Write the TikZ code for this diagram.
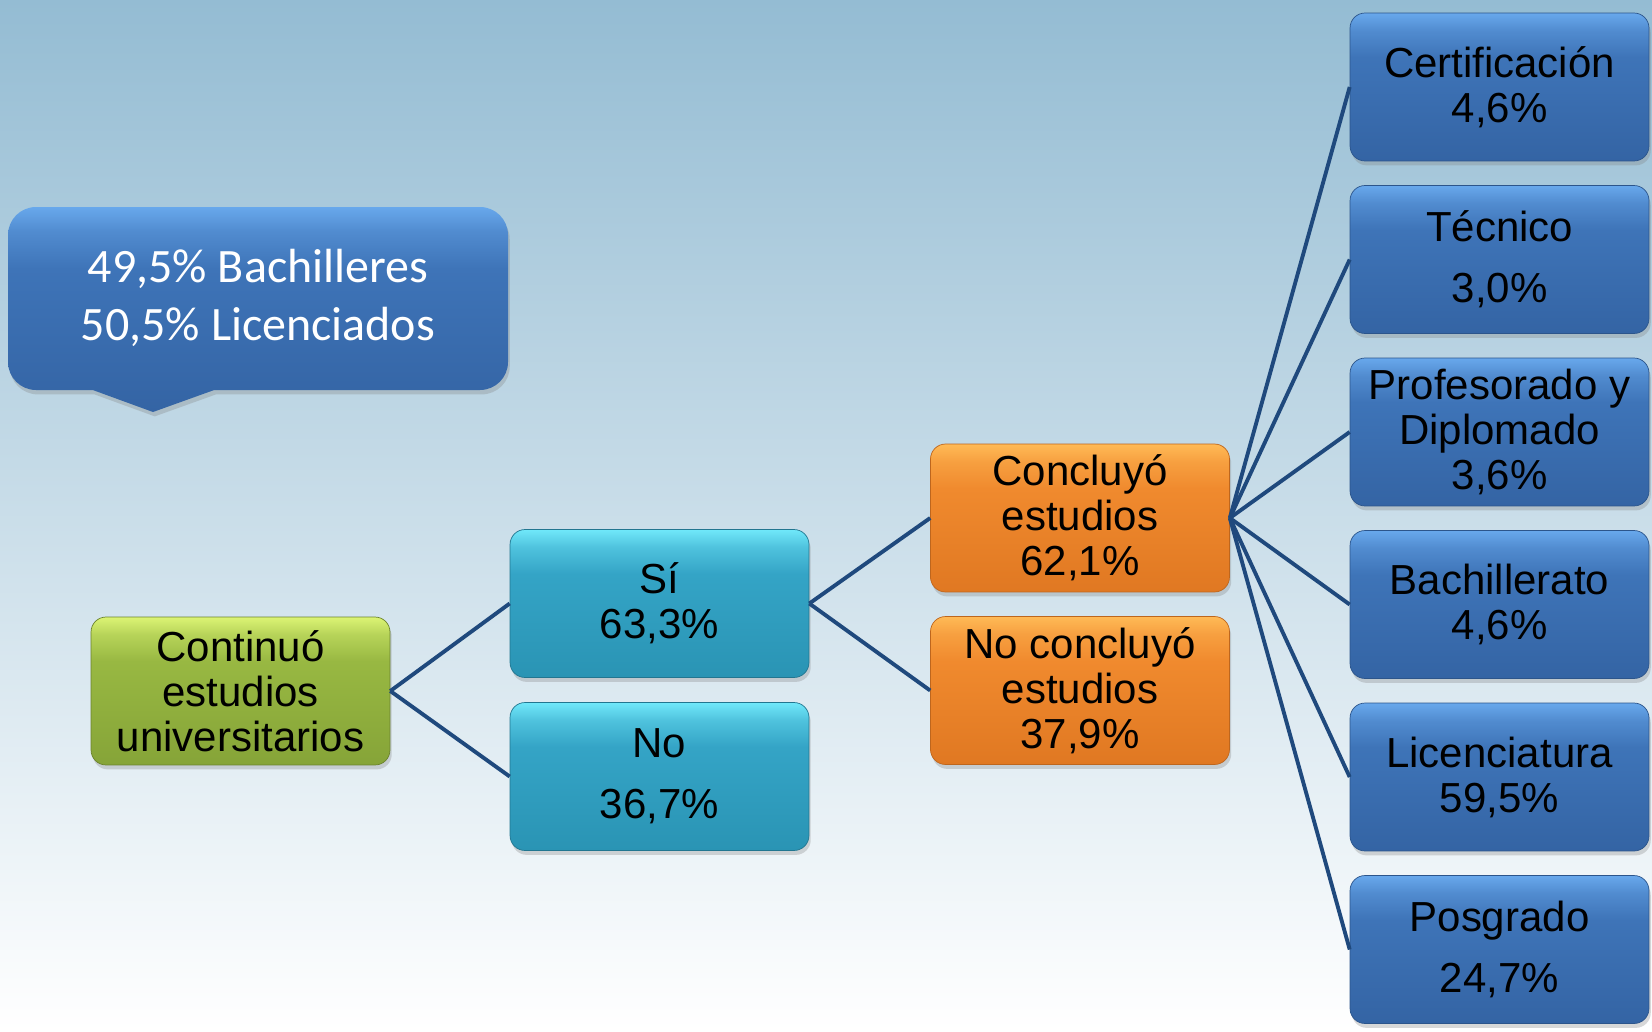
\documentclass[tikz,border=0pt]{standalone}
\usepackage{fontspec}
\setmainfont{Liberation Sans}
\newfontfamily\notafont{Carlito}
\usetikzlibrary{positioning,shadows}

\definecolor{fondo}{RGB}{148,188,211}
\definecolor{linea}{RGB}{31,73,125}
\definecolor{azulA}{RGB}{104,168,236}
\definecolor{azulB}{RGB}{62,116,184}
\definecolor{azulC}{RGB}{52,100,164}
\definecolor{cianA}{RGB}{112,232,250}
\definecolor{cianB}{RGB}{52,164,198}
\definecolor{cianC}{RGB}{42,148,180}
\definecolor{narA}{RGB}{255,186,86}
\definecolor{narB}{RGB}{240,138,46}
\definecolor{narC}{RGB}{224,120,34}
\definecolor{verA}{RGB}{220,244,116}
\definecolor{verB}{RGB}{152,184,66}
\definecolor{verC}{RGB}{134,164,56}

% bisel: banda clara arriba, cuerpo casi plano
\pgfdeclareverticalshading{biselazul}{100bp}{color(0bp)=(azulC); color(25bp)=(azulC);
  color(60bp)=(azulB); color(69bp)=(azulB!55!azulA); color(75bp)=(azulA); color(100bp)=(azulA)}
\pgfdeclareverticalshading{biselcian}{100bp}{color(0bp)=(cianC); color(25bp)=(cianC);
  color(60bp)=(cianB); color(69bp)=(cianB!55!cianA); color(75bp)=(cianA); color(100bp)=(cianA)}
\pgfdeclareverticalshading{biselnar}{100bp}{color(0bp)=(narC); color(25bp)=(narC);
  color(60bp)=(narB); color(69bp)=(narB!55!narA); color(75bp)=(narA); color(100bp)=(narA)}
\pgfdeclareverticalshading{biselver}{100bp}{color(0bp)=(verC); color(25bp)=(verC);
  color(60bp)=(verB); color(69bp)=(verB!55!verA); color(75bp)=(verA); color(100bp)=(verA)}

\tikzset{
  sombra/.style={drop shadow={opacity=0.3, shadow xshift=1pt, shadow yshift=-2.5pt}},
  caja/.style={rectangle, rounded corners=0.3cm, minimum width=5.98cm,
    minimum height=2.96cm, inner sep=0pt, align=center, text=black,
    font=\fontsize{23.9}{25.6}\selectfont, sombra},
  verde/.style={caja, draw=verC!80!black, shading=biselver},
  cian/.style={caja, draw=cianC!80!black, shading=biselcian},
  naranja/.style={caja, draw=narC!85!black, shading=biselnar},
  azul/.style={caja, draw=azulC!85!black, shading=biselazul},
  conector/.style={draw=linea, line width=2.2pt}
}

\begin{document}
\begin{tikzpicture}[x=0.02cm, y=-0.02cm]
  % Fondo
  \useasboundingbox (0,0) rectangle (1652,1031);
  \fill[top color=fondo, bottom color=white] (0,0) rectangle (1652,1031);

  % Nota
  \path[shading=biselazul, sombra]
    [rounded corners=0.56cm] (8,207) rectangle (508,390)
    [sharp corners] (90,389) -- (153,412) -- (217,389) -- cycle;
  \node[text=white, font=\notafont\fontsize{27.3}{33}\selectfont, align=center]
    (nota) at (258,298) {49,5\% Bachilleres\\50,5\% Licenciados};

  % Raiz
  \node[verde] (cont) at (240.5,691) {Continuó\\estudios\\universitarios};

  % Primer nivel
  \node[cian] (si) at (659.5,603.5) {Sí\\63,3\%};
  \node[cian] (no) at (659.5,776.5) {No\\[9pt]36,7\%};

  % Segundo nivel
  \node[naranja] (concl) at (1080,518) {Concluyó\\estudios\\62,1\%};
  \node[naranja] (noconcl) at (1080,690.5) {No concluyó\\estudios\\37,9\%};

  % Tercer nivel
  \node[azul] (cert) at (1499.5,87) {Certificación\\4,6\%};
  \node[azul] (tec) at (1499.5,259.5) {Técnico\\[9pt]3,0\%};
  \node[azul] (prof) at (1499.5,432) {Profesorado y\\Diplomado\\3,6\%};
  \node[azul] (bach) at (1499.5,604.5) {Bachillerato\\4,6\%};
  \node[azul] (lic) at (1499.5,777) {Licenciatura\\59,5\%};
  \node[azul] (pos) at (1499.5,949.5) {Posgrado\\[9pt]24,7\%};

  % Conectores
  \draw[conector] (cont.east) -- (si.west);
  \draw[conector] (cont.east) -- (no.west);
  \draw[conector] (si.east) -- (concl.west);
  \draw[conector] (si.east) -- (noconcl.west);
  \foreach \n in {cert,tec,prof,bach,lic,pos}
    \draw[conector] (concl.east) -- (\n.west);
\end{tikzpicture}
\end{document}
